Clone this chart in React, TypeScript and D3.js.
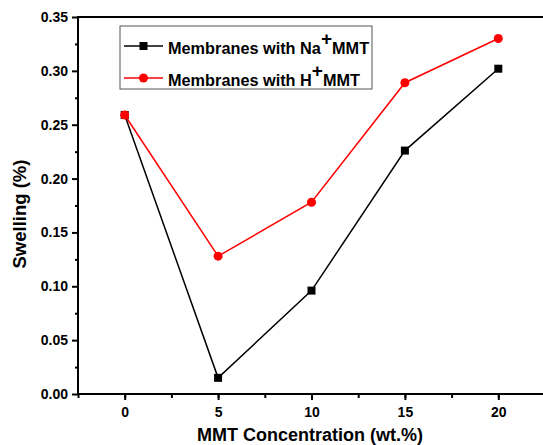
import React, { useRef, useEffect } from "react";
import * as d3 from "d3";

const concentrations = [0, 5, 10, 15, 20];
const naSwelling = [0.259, 0.015, 0.096, 0.226, 0.302];
const hSwelling = [0.259, 0.128, 0.178, 0.289, 0.33];
const xTicks = [0, 5, 10, 15, 20];
const yTicks = [0, 0.05, 0.1, 0.15, 0.2, 0.25, 0.3, 0.35];

const App = () => {
  const svgRef = useRef<SVGSVGElement>(null);

  useEffect(() => {
    const svg = d3.select(svgRef.current);
    svg.selectAll("*").remove();

    const width = 543;
    const height = 445;
    const margin = { top: 17, right: -2, bottom: 51, left: 78 };
    const font = "Arial, 'Liberation Sans', sans-serif";

    const x = d3
      .scaleLinear()
      .domain([-2.5, 22.5])
      .range([margin.left, width - margin.right]);
    const y = d3
      .scaleLinear()
      .domain([0, 0.35])
      .range([height - margin.bottom, margin.top]);

    // frame
    svg
      .append("rect")
      .attr("x", margin.left)
      .attr("y", margin.top)
      .attr("width", x(22.5) - margin.left)
      .attr("height", y(0) - y(0.35))
      .attr("fill", "none")
      .attr("stroke", "black")
      .attr("stroke-width", 2);

    // x axis
    const xMinor = svg.append("g").attr("transform", `translate(0,${y(0)})`);
    xMinor
      .call(d3.axisBottom(x).tickValues(d3.range(-2.5, 23, 2.5)).tickSize(4).tickFormat(() => ""))
      .call((g) => g.select(".domain").remove())
      .selectAll("line")
      .attr("stroke-width", 2);
    const xMajor = svg.append("g").attr("transform", `translate(0,${y(0)})`);
    xMajor
      .call(d3.axisBottom(x).tickValues(xTicks).tickSize(6).tickPadding(7).tickFormat(d3.format("d")))
      .call((g) => g.select(".domain").remove());
    xMajor.selectAll("line").attr("stroke-width", 2);
    xMajor
      .selectAll("text")
      .attr("font-family", font)
      .attr("font-weight", "bold")
      .attr("font-size", 14);

    // y axis
    const yMinor = svg.append("g").attr("transform", `translate(${margin.left},0)`);
    yMinor
      .call(d3.axisLeft(y).tickValues(d3.range(0.025, 0.35, 0.05)).tickSize(3).tickFormat(() => ""))
      .call((g) => g.select(".domain").remove())
      .selectAll("line")
      .attr("stroke-width", 2);
    const yMajor = svg.append("g").attr("transform", `translate(${margin.left},0)`);
    yMajor
      .call(d3.axisLeft(y).tickValues(yTicks).tickSize(6).tickPadding(4).tickFormat(d3.format(".2f")))
      .call((g) => g.select(".domain").remove());
    yMajor.selectAll("line").attr("stroke-width", 2);
    yMajor
      .selectAll("text")
      .attr("font-family", font)
      .attr("font-weight", "bold")
      .attr("font-size", 14);

    // axis titles
    svg
      .append("text")
      .attr("x", 310)
      .attr("y", 441)
      .attr("text-anchor", "middle")
      .attr("font-family", font)
      .attr("font-weight", "bold")
      .attr("font-size", 18)
      .text("MMT Concentration (wt.%)");
    svg
      .append("text")
      .attr("transform", `translate(26,214) rotate(-90)`)
      .attr("text-anchor", "middle")
      .attr("font-family", font)
      .attr("font-weight", "bold")
      .attr("font-size", 18.5)
      .text("Swelling (%)");

    const line = d3
      .line<number>()
      .x((_, i) => x(concentrations[i]))
      .y((d) => y(d));

    // Na+ series
    svg
      .append("path")
      .datum(naSwelling)
      .attr("fill", "none")
      .attr("stroke", "black")
      .attr("stroke-width", 1.5)
      .attr("d", line);
    svg
      .selectAll(".na")
      .data(naSwelling)
      .enter()
      .append("rect")
      .attr("x", (_, i) => x(concentrations[i]) - 4)
      .attr("y", (d) => y(d) - 4)
      .attr("width", 8)
      .attr("height", 8)
      .attr("fill", "black");

    // H+ series
    svg
      .append("path")
      .datum(hSwelling)
      .attr("fill", "none")
      .attr("stroke", "#ff0000")
      .attr("stroke-width", 1.5)
      .attr("d", line);
    svg
      .selectAll(".h")
      .data(hSwelling)
      .enter()
      .append("circle")
      .attr("cx", (_, i) => x(concentrations[i]))
      .attr("cy", (d) => y(d))
      .attr("r", 4.5)
      .attr("fill", "#ff0000");

    // legend
    const legend = svg.append("g").attr("transform", "translate(120,26)");
    legend
      .append("rect")
      .attr("width", 252)
      .attr("height", 63)
      .attr("fill", "white")
      .attr("stroke", "#555")
      .attr("stroke-width", 1);

    const items = [
      { color: "black", ion: "Na", shape: "square", yy: 20 },
      { color: "#ff0000", ion: "H", shape: "circle", yy: 52 },
    ];
    items.forEach((it) => {
      legend
        .append("line")
        .attr("x1", 4)
        .attr("x2", 43)
        .attr("y1", it.yy)
        .attr("y2", it.yy)
        .attr("stroke", it.color)
        .attr("stroke-width", 1.5);
      if (it.shape === "square") {
        legend
          .append("rect")
          .attr("x", 19.5)
          .attr("y", it.yy - 4)
          .attr("width", 8)
          .attr("height", 8)
          .attr("fill", it.color);
      } else {
        legend
          .append("circle")
          .attr("cx", 23.5)
          .attr("cy", it.yy)
          .attr("r", 4.5)
          .attr("fill", it.color);
      }
      const t = legend
        .append("text")
        .attr("x", 48)
        .attr("y", it.yy + 8)
        .attr("font-family", font)
        .attr("font-weight", "bold")
        .attr("font-size", 16.3);
      t.append("tspan").text(`Membranes with ${it.ion}`);
      t.append("tspan").attr("dy", -9).attr("font-size", 19).text("+");
      t.append("tspan").attr("dy", 9).text("MMT");
    });
  }, []);

  return <svg ref={svgRef} width={543} height={445} style={{ position: "absolute", left: 0, top: 0 }}></svg>;
};

export default App;
